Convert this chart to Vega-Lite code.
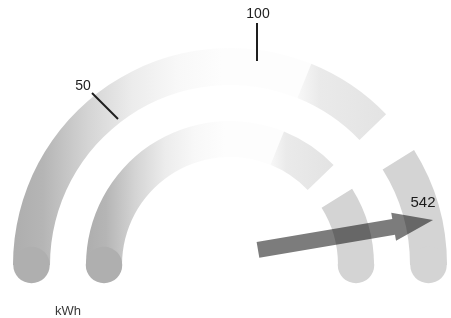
{
  "$schema": "https://vega.github.io/schema/vega-lite/v6.json",
  "width": 451,
  "height": 318,
  "autosize": {"type": "none"},
  "padding": 0,
  "background": "#ffffff",
  "config": {"view": {"stroke": null}},
  "datasets": {
    "bandFade": [
      {"x": 0, "y": 0, "a1": -90, "a2": 22, "ro": 217, "ri": 180},
      {"x": 0, "y": 0, "a1": -90, "a2": 22, "ro": 144, "ri": 108}
    ],
    "bandPale": [
      {"x": 0, "y": 0, "a1": 22, "a2": 46, "ro": 217, "ri": 180},
      {"x": 0, "y": 0, "a1": 22, "a2": 46, "ro": 144, "ri": 108}
    ],
    "bandRight": [
      {"x": 0, "y": 0, "a1": 58, "a2": 90, "ro": 217, "ri": 180},
      {"x": 0, "y": 0, "a1": 58, "a2": 90, "ro": 144, "ri": 108}
    ],
    "caps": [
      {"x": -198.5, "y": 0, "side": "left"},
      {"x": -126, "y": 0, "side": "left"},
      {"x": 198.5, "y": 0, "side": "right"},
      {"x": 126, "y": 0, "side": "right"}
    ],
    "ticks": [
      {"x": 27, "y": 242, "x2": 27, "y2": 204},
      {"x": -138, "y": 172, "x2": -112, "y2": 146}
    ],
    "needle": [{"x": 115.5, "y": 30}],
    "tickLabels": [
      {"x": 28, "y": 251, "label": "100"},
      {"x": -147, "y": 179, "label": "50"}
    ],
    "valueLabel": [{"x": 193, "y": 63, "label": "542"}],
    "unitLabel": [{"x": -162, "y": -46, "label": "kWh"}]
  },
  "encoding": {
    "x": {"field": "x", "type": "quantitative", "scale": {"domain": [-230, 221], "nice": false, "zero": false}, "axis": null},
    "y": {"field": "y", "type": "quantitative", "scale": {"domain": [-53, 265], "nice": false, "zero": false}, "axis": null}
  },
  "layer": [
    {
      "data": {"name": "bandFade"},
      "mark": {
        "type": "arc",
        "fill": {
          "gradient": "linear", "x1": 0, "y1": 0, "x2": 1, "y2": 0,
          "stops": [
            {"offset": 0, "color": "#aeaeae"},
            {"offset": 0.1, "color": "#b5b5b5"},
            {"offset": 0.25, "color": "#d4d4d4"},
            {"offset": 0.4, "color": "#ececec"},
            {"offset": 0.55, "color": "#f8f8f8"},
            {"offset": 0.7, "color": "#fdfdfd"},
            {"offset": 1, "color": "#fdfdfd"}
          ]
        }
      },
      "encoding": {
        "theta": {"field": "a1", "type": "quantitative", "scale": {"domain": [-180, 180], "range": [-3.14159265, 3.14159265], "zero": false}},
        "theta2": {"field": "a2"},
        "radius": {"field": "ro", "type": "quantitative", "scale": {"type": "linear", "domain": [0, 217], "range": [0, 217], "zero": true}},
        "radius2": {"field": "ri"}
      }
    },
    {
      "data": {"name": "bandPale"},
      "mark": {
        "type": "arc",
        "fill": {
          "gradient": "linear", "x1": 0, "y1": 0, "x2": 1, "y2": 0,
          "stops": [
            {"offset": 0, "color": "#f8f8f8"},
            {"offset": 0.25, "color": "#eaeaea"},
            {"offset": 1, "color": "#e3e3e3"}
          ]
        }
      },
      "encoding": {
        "theta": {"field": "a1", "type": "quantitative"},
        "theta2": {"field": "a2"},
        "radius": {"field": "ro", "type": "quantitative"},
        "radius2": {"field": "ri"}
      }
    },
    {
      "data": {"name": "bandRight"},
      "mark": {"type": "arc", "fill": "#d4d4d4"},
      "encoding": {
        "theta": {"field": "a1", "type": "quantitative"},
        "theta2": {"field": "a2"},
        "radius": {"field": "ro", "type": "quantitative"},
        "radius2": {"field": "ri"}
      }
    },
    {
      "data": {"name": "caps"},
      "mark": {"type": "point", "shape": "circle", "filled": true, "opacity": 1, "size": 1332, "strokeWidth": 0},
      "encoding": {
        "color": {"field": "side", "type": "nominal", "scale": {"domain": ["left", "right"], "range": ["#afafaf", "#d4d4d4"]}, "legend": null}
      }
    },
    {
      "data": {"name": "ticks"},
      "mark": {"type": "rule", "color": "#1e1e1e", "strokeWidth": 2},
      "encoding": {
        "x2": {"field": "x2"},
        "y2": {"field": "y2"}
      }
    },
    {
      "data": {"name": "needle"},
      "mark": {
        "type": "point",
        "filled": true,
        "opacity": 1,
        "color": "#7c7c7c",
        "strokeWidth": 0,
        "blend": "multiply",
        "shape": "M -1 -0.09 L 0.55 -0.09 L 0.55 -0.16 L 1 0 L 0.55 0.16 L 0.55 0.09 L -1 0.09 Z",
        "size": 31540,
        "angle": -9.7
      }
    },
    {
      "data": {"name": "tickLabels"},
      "mark": {"type": "text", "font": "Liberation Sans", "fontSize": 14, "color": "#1e1e1e", "align": "center", "baseline": "middle"},
      "encoding": {"text": {"field": "label"}}
    },
    {
      "data": {"name": "valueLabel"},
      "mark": {"type": "text", "font": "Liberation Sans", "fontSize": 15, "color": "#1a1a1a", "align": "center", "baseline": "middle"},
      "encoding": {"text": {"field": "label"}}
    },
    {
      "data": {"name": "unitLabel"},
      "mark": {"type": "text", "font": "Liberation Sans", "fontSize": 13, "color": "#3a3a3a", "align": "center", "baseline": "middle"},
      "encoding": {"text": {"field": "label"}}
    }
  ]
}
